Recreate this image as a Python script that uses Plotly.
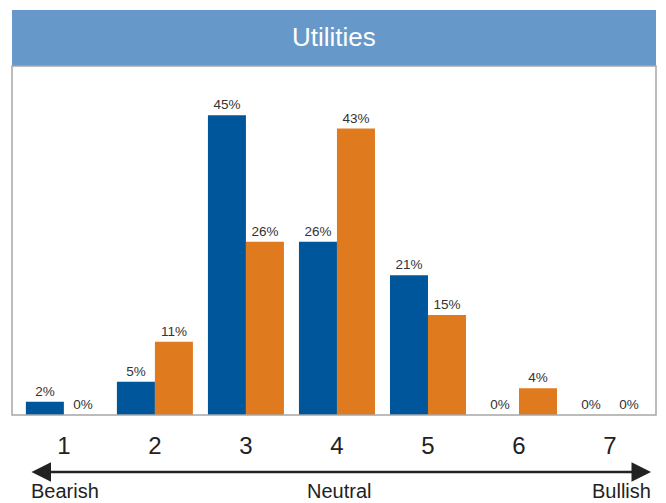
import plotly.graph_objects as go

categories = [1, 2, 3, 4, 5, 6, 7]
series_a = [2, 5, 45, 26, 21, 0, 0]
series_b = [0, 11, 26, 43, 15, 4, 0]
tick_labels = ["1", "2", "3", "4", "5", "6", "7"]
title_text = "Utilities"
scale_labels = ["Bearish", "Neutral", "Bullish"]

BLUE = "#00569a"
ORANGE = "#e07a1f"
HEADER = "#6699c9"
FONT = "Liberation Sans, Arial, sans-serif"

fig = go.Figure()
for vals, col in [(series_a, BLUE), (series_b, ORANGE)]:
    fig.add_trace(go.Bar(
        x=categories, y=vals, marker_color=col, marker_line_width=0,
        text=[f"{v}%" for v in vals], textposition="outside",
        textfont=dict(size=13.5, color="#333333", family=FONT),
        cliponaxis=False, showlegend=False,
    ))

PLOT_H = 349  # pixel height of plotting area
fig.update_layout(
    width=666, height=503,
    margin=dict(l=12, r=10, t=66, b=88),
    paper_bgcolor="white", plot_bgcolor="white",
    barmode="group", bargap=0.165, bargroupgap=0,
    font=dict(family=FONT),
    xaxis=dict(range=[0.43, 7.505], tickvals=categories, ticktext=tick_labels,
               showgrid=False, zeroline=False, showline=False,
               tickfont=dict(size=24, color="#222222"), ticks="",
               ticklabelstandoff=14),
    yaxis=dict(range=[0, 52.4], visible=False),
)

# header band with title
fig.add_shape(type="rect", xref="paper", yref="paper",
              x0=0, x1=1, y0=1, y1=1 + 56 / PLOT_H,
              fillcolor=HEADER, line_width=0, layer="above")
fig.add_annotation(text=title_text, xref="paper", yref="paper",
                   x=0.5, y=1 + 29 / PLOT_H, showarrow=False,
                   font=dict(size=26, color="white", family=FONT),
                   xanchor="center", yanchor="middle")

# frame around plotting area
fig.add_shape(type="rect", xref="paper", yref="paper", x0=0, x1=1, y0=0, y1=1,
              line=dict(color="#a6a6a6", width=1.5), fillcolor="rgba(0,0,0,0)",
              layer="above")

# double-headed scale arrow
y_arrow = -57 / PLOT_H
x_end = (651 - 12) / 644
fig.add_annotation(text="", xref="paper", yref="paper", x=x_end, y=y_arrow,
                   ax=-621, ay=0, showarrow=True, arrowside="end+start",
                   arrowhead=2, arrowsize=1.5, arrowwidth=2.6, arrowcolor="#222222")

y_lbl = -76 / PLOT_H
lbl_font = dict(size=20, color="#222222", family=FONT)
fig.add_annotation(text=scale_labels[0], xref="paper", yref="paper",
                   x=(29 - 12) / 644, y=y_lbl, xanchor="left", yanchor="middle",
                   showarrow=False, font=lbl_font)
fig.add_annotation(text=scale_labels[1], xref="paper", yref="paper",
                   x=(339 - 12) / 644, y=y_lbl, xanchor="center", yanchor="middle",
                   showarrow=False, font=lbl_font)
fig.add_annotation(text=scale_labels[2], xref="paper", yref="paper",
                   x=(653 - 12) / 644, y=y_lbl, xanchor="right", yanchor="middle",
                   showarrow=False, font=lbl_font)

fig.write_html("out.html")
